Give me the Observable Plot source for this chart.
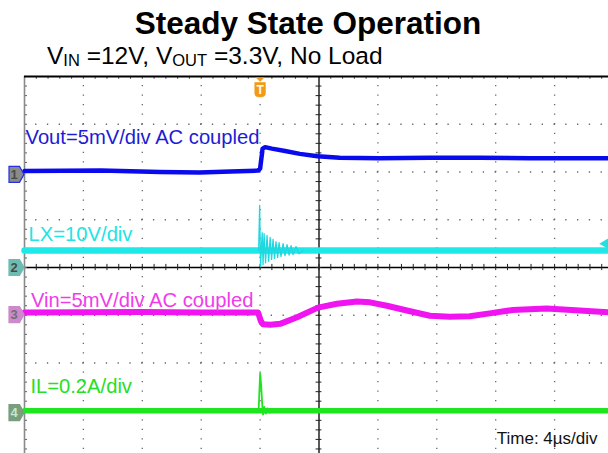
<!DOCTYPE html>
<html>
<head>
<meta charset="utf-8">
<script src="https://cdn.jsdelivr.net/npm/d3@7"></script>
<script src="https://cdn.jsdelivr.net/npm/@observablehq/plot@0.6"></script>
<style>
  html, body { margin: 0; padding: 0; background: #fff; }
  #wrap { position: relative; width: 608px; height: 453px; overflow: hidden; font-family: "Liberation Sans", Arial, sans-serif; }
  #hdr { position: relative; width: 608px; height: 72px; }
  #title { position: absolute; left: 0; top: 8px; width: 616px; text-align: center; font-weight: bold; font-size: 31.5px; line-height: 31.5px; color: #000; white-space: nowrap; }
  #sub { position: absolute; left: 47px; top: 44px; font-size: 24.5px; line-height: 24.5px; color: #000; white-space: nowrap; }
  #sub .sb { font-size: 16.5px; vertical-align: -2px; }
  #chart svg { display: block; }
</style>
</head>
<body>
<div id="wrap">
  <div id="hdr">
    <div id="title">Steady State Operation</div>
    <div id="sub">V<span class="sb">IN</span> =12V, V<span class="sb">OUT</span> =3.3V, No Load</div>
  </div>
  <div id="chart"></div>
</div>
<script>
// ---- Data (time in µs, amplitude in scope divisions) ----
const voutT = [-20, -14.8, -10.8, -8.1, -6.0, -4.15, -4.0, -3.83, -3.66, -3.2, -2.3, -1.3, -0.1, 1.4, 4.1, 7.5, 10.9, 14.3, 19.7];
const voutV = [2.02, 2.03, 2.00, 1.99, 2.01, 2.03, 2.07, 2.49, 2.52, 2.49, 2.44, 2.38, 2.33, 2.30, 2.29, 2.30, 2.30, 2.29, 2.29];

const lxT = [-20, 19.7];
const lxV = [0.355, 0.355];

const lxRingT = [-4.1, -4.03, -3.97, -3.86, -3.80, -3.73, -3.63, -3.53, -3.42, -3.32, -3.22, -3.12, -3.02, -2.92, -2.81, -2.71, -2.58, -2.44, -2.31, -2.17, -2.03, -1.90, -1.76, -1.56, -1.36, -1.08];
const lxRingV = [0.355, 1.30, 0.02, 0.73, 0.06, 0.71, 0.10, 0.67, 0.13, 0.63, 0.17, 0.59, 0.19, 0.54, 0.21, 0.52, 0.23, 0.50, 0.25, 0.48, 0.26, 0.46, 0.27, 0.44, 0.29, 0.355];

const vinT = [-20, -12, -8, -4.14, -3.95, -3.8, -3.3, -2.64, -1.49, -0.07, 1.22, 2.58, 3.46, 4.61, 5.97, 7.53, 8.88, 10.24, 11.59, 13.15, 15.46, 17.69, 19.7];
const vinV = [-0.94, -0.93, -0.94, -0.94, -1.12, -1.19, -1.20, -1.18, -1.04, -0.84, -0.76, -0.71, -0.73, -0.80, -0.90, -1.01, -1.03, -1.02, -0.96, -0.89, -0.86, -0.90, -0.94];

const ilT = [-20, 19.7];
const ilV = [-3.0, -3.0];

const ilSpikeT = [-4.1, -4.0, -3.93, -3.86, -3.8, -3.72, -3.62, -3.5, -3.35, -3.2];
const ilSpikeV = [-3.0, -2.22, -2.45, -2.85, -3.08, -2.92, -3.06, -2.95, -3.04, -2.98];

const labelText = ["Vout=5mV/div AC coupled", "LX=10V/div", "Vin=5mV/div AC coupled", "IL=0.2A/div", "Time: 4µs/div"];
const labelT = [-19.93, -19.72, -19.56, -19.6, 12.07];
const labelV = [2.576, 0.545, -0.817, -2.618, -3.686];
const labelColor = ["#1c1cd6", "#22e4e4", "#f03ce8", "#26e026", "#111111"];
const labelSize = [20.2, 20.2, 20.2, 20.2, 17];

const channelName = ["1", "2", "3", "4"];
const channelLevel = [1.95, 0.0, -0.985, -3.04];
const channelFill = ["#8a8a8a", "#6cbcb2", "#cc8acc", "#789e7e"];
const channelStroke = ["#2233dd", "#6cbcb2", "#cc8acc", "#789e7e"];
const channelText = ["#4a4a4a", "#4a4a4a", "#707070", "#c8e8c8"];

const triggerTime = -4;
const lxLevelMarker = 0.5;

const gridCols = [-16, -12, -8, -4, 4, 8, 12, 16];
const gridRows = [-3, -2, -1, 1, 2, 3];
const minorX = d3.range(0, 50).map(i => -20 + i * 0.8);
const minorY = d3.range(0, 41).map(i => -4 + i * 0.2);

// ---- Build tables ----
const zip = (T, V) => T.map((t, i) => ({t, v: V[i]}));
const vout = zip(voutT, voutV);
const lx = zip(lxT, lxV);
const lxRing = zip(lxRingT, lxRingV);
const vin = zip(vinT, vinV);
const il = zip(ilT, ilV);
const ilSpike = zip(ilSpikeT, ilSpikeV);
const labels = labelText.map((text, i) => ({text, t: labelT[i], v: labelV[i], color: labelColor[i], size: labelSize[i]}));
const channels = channelName.map((name, i) => ({name, v: channelLevel[i], fill: channelFill[i], stroke: channelStroke[i], tc: channelText[i]}));

const pentagon = {draw(ctx) {
  ctx.moveTo(-7.5, -8); ctx.lineTo(3, -8); ctx.lineTo(7.5, 0); ctx.lineTo(3, 8); ctx.lineTo(-7.5, 8); ctx.closePath();
}};
const trigShape = {draw(ctx) {
  ctx.moveTo(-4, 1); ctx.lineTo(4, 1); ctx.lineTo(0, 5); ctx.closePath();
  ctx.moveTo(-5.3, 6); ctx.lineTo(5.3, 6); ctx.lineTo(5.3, 17); ctx.quadraticCurveTo(5.3, 20.5, 0, 20.5); ctx.quadraticCurveTo(-5.3, 20.5, -5.3, 17); ctx.closePath();
}};

const chart = Plot.plot({
  width: 608,
  height: 381,
  marginTop: 4,
  marginBottom: 0,
  marginLeft: 24,
  marginRight: 0,
  style: {background: "#fff", fontFamily: "'Liberation Sans', Arial, sans-serif"},
  x: {domain: [-20, 19.66], axis: null},
  y: {domain: [-3.895, 4], axis: null},
  marks: [
    // dotted grid
    Plot.ruleY(gridRows, {y: d => d, stroke: "#666", strokeWidth: 1.3, strokeDasharray: "1.3 10.48", strokeDashoffset: 0.65}),
    Plot.ruleX(gridCols, {x: d => d, stroke: "#666", strokeWidth: 1.3, strokeDasharray: "1.3 8.25", strokeDashoffset: 0.65}),
    // center axes with ticks
    Plot.ruleX([0], {x: d => d, stroke: "#000", strokeWidth: 1.3}),
    Plot.ruleY([0], {y: d => d, stroke: "#000", strokeWidth: 1.3}),
    Plot.ruleX(minorX, {x: d => d, y1: -0.065, y2: 0.065, stroke: "#222", strokeWidth: 1}),
    Plot.ruleY(minorY, {y: d => d, x1: -0.2, x2: 0.2, stroke: "#222", strokeWidth: 1}),
    // borders
    Plot.ruleX(minorX, {x: d => d, y1: 4, y2: 3.94, stroke: "#555", strokeWidth: 1}),
    Plot.ruleY(minorY, {y: d => d, x1: -20, x2: -19.8, stroke: "#555", strokeWidth: 1}),
    Plot.ruleX([-20], {x: d => d, stroke: "#8a8a8a", strokeWidth: 1.6}),
    Plot.ruleY([4], {y: d => d, stroke: "#000", strokeWidth: 2}),
    // traces
    Plot.line(lx, {x: "t", y: "v", stroke: "#1ee8e8", strokeWidth: 6.5}),
    Plot.line(lxRing, {x: "t", y: "v", stroke: "#1ed8e0", strokeWidth: 1.3}),
    Plot.line(vout, {x: "t", y: "v", stroke: "#0a0aee", strokeWidth: 4.5}),
    Plot.line(vin, {x: "t", y: "v", stroke: "#f014f0", strokeWidth: 6}),
    Plot.line(il, {x: "t", y: "v", stroke: "#1ee61e", strokeWidth: 5.5}),
    Plot.line(ilSpike, {x: "t", y: "v", stroke: "#1ee61e", strokeWidth: 1.8}),
    // labels
    Plot.text(labels, {x: "t", y: "v", text: "text", fill: "color", fontSize: d => d.size, textAnchor: "start", lineAnchor: "bottom"}),
    // channel markers
    Plot.dot(channels, {x: -20, y: "v", dx: -8, symbol: pentagon, fill: "fill", stroke: "stroke", strokeWidth: 1.2}),
    Plot.text(channels, {x: -20, y: "v", dx: -10.5, text: "name", fill: "tc", fontSize: 13, fontWeight: "bold"}),
    // trigger marker
    Plot.dot([triggerTime], {x: d => d, y: 4, symbol: trigShape, fill: "#f39a12", stroke: "#f39a12", strokeWidth: 0.6}),
    Plot.text([triggerTime], {x: d => d, y: 4, dy: 13.5, text: () => "T", fill: "#fff", fontSize: 12, fontWeight: "bold"}),
    // LX trigger level marker
    Plot.dot([lxLevelMarker], {x: 19.66, y: d => d, dx: -3, symbol: "triangle", rotate: -90, r: 4, fill: "#22e0e0", stroke: "none"})
  ]
});
document.getElementById("chart").appendChild(chart);
</script>
</body>
</html>
